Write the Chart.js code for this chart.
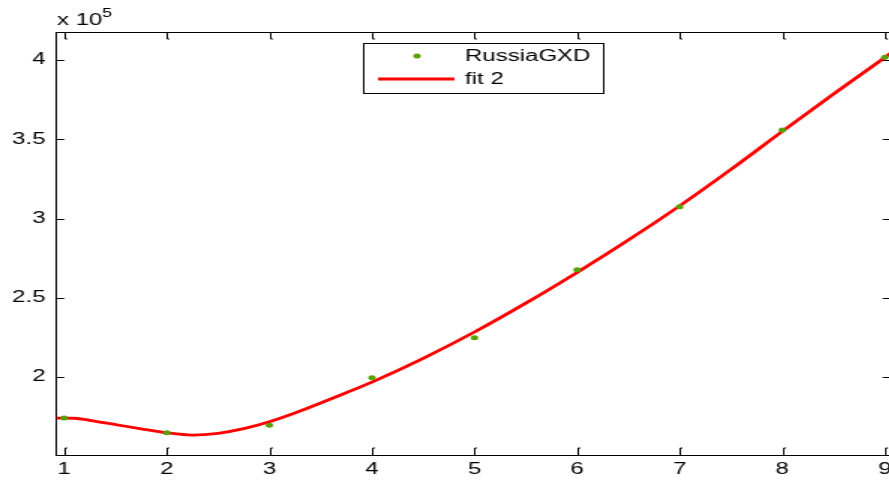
<!DOCTYPE html>
<html>
<head>
<meta charset="utf-8">
<script src="https://cdn.jsdelivr.net/npm/chart.js@4.4.1/dist/chart.umd.min.js"></script>
<style>
  html, body { margin: 0; padding: 0; background: #fff; overflow: hidden; }
  /* the figure is drawn narrow and stretched sideways like the exported plot */
  #wrap { width: 600px; height: 481px; transform: scaleX(1.5); transform-origin: 0 0; }
</style>
</head>
<body>
<div id="wrap"><canvas id="grafica"></canvas></div>
<script>
// ticks
var xTicks=[1,2,3,4,5,6,7,8,9];
var yTicks=[200000,250000,300000,350000,400000];

// observed series
var datosX=[1,2,3,4,5,6,7,8,9];
var datosY=[174100,164900,169500,199600,224800,267700,307400,355800,401700];

// fitted curve (fit 2)
var ajusteX=[0.92,1,1.1,1.25,1.5,1.75,2,2.25,2.5,2.75,3,3.25,3.5,3.75,4,4.5,5,5.5,6,6.5,7,7.5,8,8.5,9,9.06];
var ajusteY=[174100,174100,174000,172700,170000,167300,164800,163400,164500,167400,171800,177300,183600,190100,196800,211800,228400,246600,266000,286400,308000,331000,355000,378600,401600,404400];

var etiquetas=['RussiaGXD','fit 2'];
var exponente='5';

var VERDE='#58a000';
var ROJO='#ff0000';
var FUENTE='"Liberation Sans", Arial, sans-serif';

function puntos(xs,ys){
	var arr=new Array();
	for(var i=0;i<xs.length;i++){
		arr.push({x:xs[i],y:ys[i]});
	}
	return arr;
}

// axes box, inward ticks, exponent and legend like a matlab figure
var marcoMatlab={
	id:'marcoMatlab',
	afterDraw:function(chart){
		var ctx=chart.ctx;
		var a=chart.chartArea;
		var sx=chart.scales.x, sy=chart.scales.y;
		ctx.save();
		ctx.strokeStyle='#000';
		ctx.lineWidth=1;
		ctx.beginPath();
		ctx.moveTo(a.left,a.top+0.5); ctx.lineTo(a.right,a.top+0.5);
		ctx.moveTo(a.right-0.5,a.top); ctx.lineTo(a.right-0.5,a.bottom);
		for(var i=0;i<xTicks.length;i++){
			var px=Math.round(sx.getPixelForValue(xTicks[i]))+0.5;
			ctx.moveTo(px,a.bottom); ctx.lineTo(px,a.bottom-7); ctx.lineTo(px+1.5,a.bottom-7);
			ctx.moveTo(px,a.top); ctx.lineTo(px,a.top+7); ctx.lineTo(px+1.5,a.top+7);
		}
		for(var j=0;j<yTicks.length;j++){
			var py=Math.round(sy.getPixelForValue(yTicks[j]))+0.5;
			ctx.moveTo(a.left,py); ctx.lineTo(a.left+5.5,py);
			ctx.moveTo(a.right,py); ctx.lineTo(a.right-5.5,py);
		}
		ctx.stroke();

		// x 10^5
		ctx.fillStyle='#000';
		ctx.textBaseline='alphabetic';
		ctx.textAlign='left';
		ctx.font='16px '+FUENTE;
		ctx.fillText('x 10',38,25);
		ctx.font='12px '+FUENTE;
		ctx.fillText(exponente,68,17);

		// legend
		ctx.fillStyle='#fff';
		ctx.fillRect(242,43,161,50);
		ctx.strokeRect(242.5,43.5,160,50);
		ctx.fillStyle=VERDE;
		ctx.beginPath();
		ctx.arc(278,56,2.5,0,Math.PI*2);
		ctx.fill();
		ctx.strokeStyle=ROJO;
		ctx.lineWidth=2.8;
		ctx.beginPath();
		ctx.moveTo(252,79); ctx.lineTo(303,79);
		ctx.stroke();
		ctx.fillStyle='#000';
		ctx.font='16px '+FUENTE;
		ctx.textBaseline='middle';
		ctx.fillText(etiquetas[0],310,57);
		ctx.fillText(etiquetas[1],310,80);
		ctx.restore();
	}
};

var config={
	type:'scatter',
	data:{
		datasets:[
			{
				label:etiquetas[0],
				data:puntos(datosX,datosY),
				backgroundColor:VERDE,
				borderWidth:0,
				pointRadius:2.5,
				pointHoverRadius:2.5
			},
			{
				label:etiquetas[1],
				data:puntos(ajusteX,ajusteY),
				showLine:true,
				borderColor:ROJO,
				borderWidth:2.8,
				pointRadius:0,
				cubicInterpolationMode:'monotone',
				fill:false
			}
		]
	},
	options:{
		responsive:true,
		maintainAspectRatio:false,
		animation:false,
		devicePixelRatio:1,
		layout:{padding:{top:32,right:6,left:0,bottom:0}},
		plugins:{legend:{display:false},tooltip:{enabled:false}},
		scales:{
			x:{
				type:'linear',
				min:0.92,
				max:9.06,
				afterBuildTicks:function(s){ s.ticks=xTicks.map(function(v){return {value:v};}); },
				afterFit:function(s){ s.height=26; },
				grid:{drawOnChartArea:false,drawTicks:false},
				border:{color:'#000',width:1},
				ticks:{color:'#000',padding:5,maxRotation:0,font:{family:FUENTE,size:16}}
			},
			y:{
				type:'linear',
				min:150800,
				max:417700,
				afterBuildTicks:function(s){ s.ticks=yTicks.map(function(v){return {value:v};}); },
				afterFit:function(s){ s.width=37.33; },
				grid:{drawOnChartArea:false,drawTicks:false},
				border:{color:'#000',width:1},
				ticks:{
					color:'#000',
					padding:7,
					font:{family:FUENTE,size:16},
					callback:function(v){ return String(v/100000); }
				}
			}
		}
	},
	plugins:[marcoMatlab]
};

new Chart(document.getElementById('grafica').getContext('2d'),config);
</script>
</body>
</html>
